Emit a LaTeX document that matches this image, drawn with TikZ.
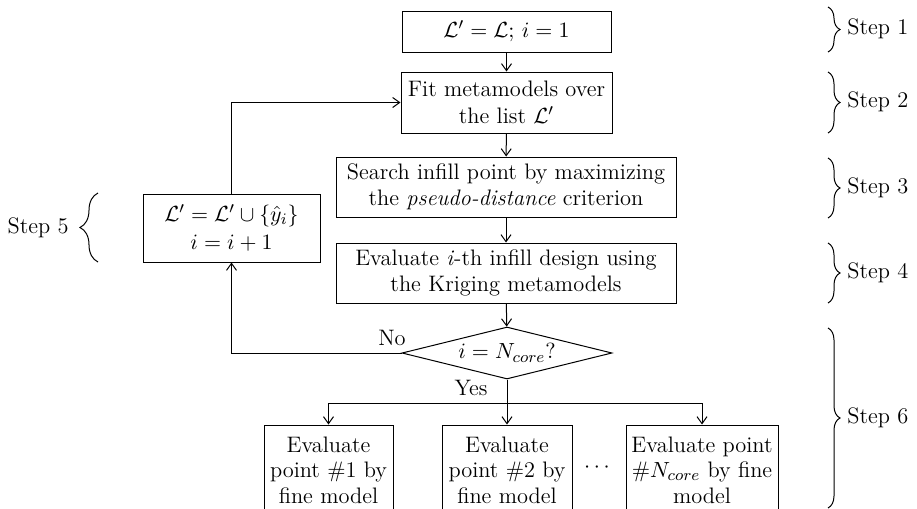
\documentclass[tikz,border=0pt]{standalone}
\usetikzlibrary{shapes.geometric,decorations.pathreplacing,arrows.meta}
\newcommand{\fsz}{\fontsize{11.2}{12.8}\selectfont}
\begin{document}
\begin{tikzpicture}[x=0.5pt,y=-0.5pt,
  box/.style={draw, line width=0.5pt, align=center, inner sep=0pt, font=\fsz},
  decision/.style={draw, line width=0.5pt, shape=diamond, inner sep=0pt, font=\fsz, minimum width=105pt, minimum height=26pt, aspect=4},
  conn/.style={line width=0.5pt, -{Straight Barb[length=3.5pt,width=5pt]}},
  plain/.style={line width=0.5pt},
  lbl/.style={font=\fsz, inner sep=0pt},
  rbrace/.style={decorate, line width=0.5pt, decoration={brace, amplitude=6pt}},
  lbrace/.style={decorate, line width=0.5pt, decoration={brace, amplitude=9pt}}]
\clip (0,0) rectangle (917,509);
% main boxes
\node[box, minimum width=104.5pt, minimum height=20.5pt] (b1) at (506.5,31.5) {$\mathcal{L}'=\mathcal{L};\, i=1$};
\node[box, minimum width=105.5pt, minimum height=30.5pt] (b2) at (506.5,102.5) {Fit metamodels over\\[0.5pt]the list $\mathcal{L}'$};
\node[box, minimum width=170pt, minimum height=30pt] (b3) at (506,187) {Search infill point by maximizing\\the \textit{pseudo-distance} criterion};
\node[box, minimum width=170pt, minimum height=30pt] (b4) at (506,273) {Evaluate \textit{i}-th infill design using\\the Kriging metamodels};
\node[box, minimum width=88.5pt, minimum height=34pt] (b5) at (231.5,228) {$\mathcal{L}'=\mathcal{L}'\cup\{\hat{y}_i\}$\\[1.5pt]$i=i+1$};
\node[decision] (d) at (507,353) {$i=N_{core}?$};
% bottom boxes
\node[box, minimum width=64.5pt, minimum height=45pt] (e1) at (328.5,470) {Evaluate\\point \#1 by\\fine model};
\node[box, minimum width=65pt, minimum height=45pt] (e2) at (507,470) {Evaluate\\point \#2 by\\fine model};
\node[box, minimum width=76pt, minimum height=45pt] (e3) at (702,470) {Evaluate point\\\#$N_{core}$ by fine\\model};
\node[lbl] (dots) at (597,468) {$\mathbf{\cdots}$};
\coordinate (split) at (507,403);
% connectors
\draw[conn] (b1) -- (b2);
\draw[conn] (b2) -- (b3);
\draw[conn] (b3) -- (b4);
\draw[conn] (b4) -- (d);
\draw[conn] (d.west) -| (b5.south);
\draw[conn] (b5.north) |- (b2.west);
\draw[plain] (d.south) -- (split);
\draw[conn] (split) -| (e1.north);
\draw[conn] (split) -| (e3.north);
\draw[conn] (split) -- (e2.north);
\node[lbl] (no) at (392,338) {No};
\node[lbl] (yes) at (471,388) {Yes};
% braces
\draw[rbrace] (828,7) -- (828,52);
\draw[rbrace] (828,72) -- (828,133);
\draw[rbrace] (828,158) -- (828,218);
\draw[rbrace] (828,243) -- (828,303);
\draw[rbrace] (828,328) -- (828,508);
\draw[lbrace] (98,262) -- (98,193);
\node[lbl, anchor=west] (s1) at (847,29) {Step 1};
\node[lbl, anchor=west] (s2) at (847,102) {Step 2};
\node[lbl, anchor=west] (s3) at (847,188) {Step 3};
\node[lbl, anchor=west] (s4) at (847,273) {Step 4};
\node[lbl, anchor=west] (s6) at (847,418) {Step 6};
\node[lbl, anchor=east] (s5) at (69,228) {Step 5};
\end{tikzpicture}
\end{document}
